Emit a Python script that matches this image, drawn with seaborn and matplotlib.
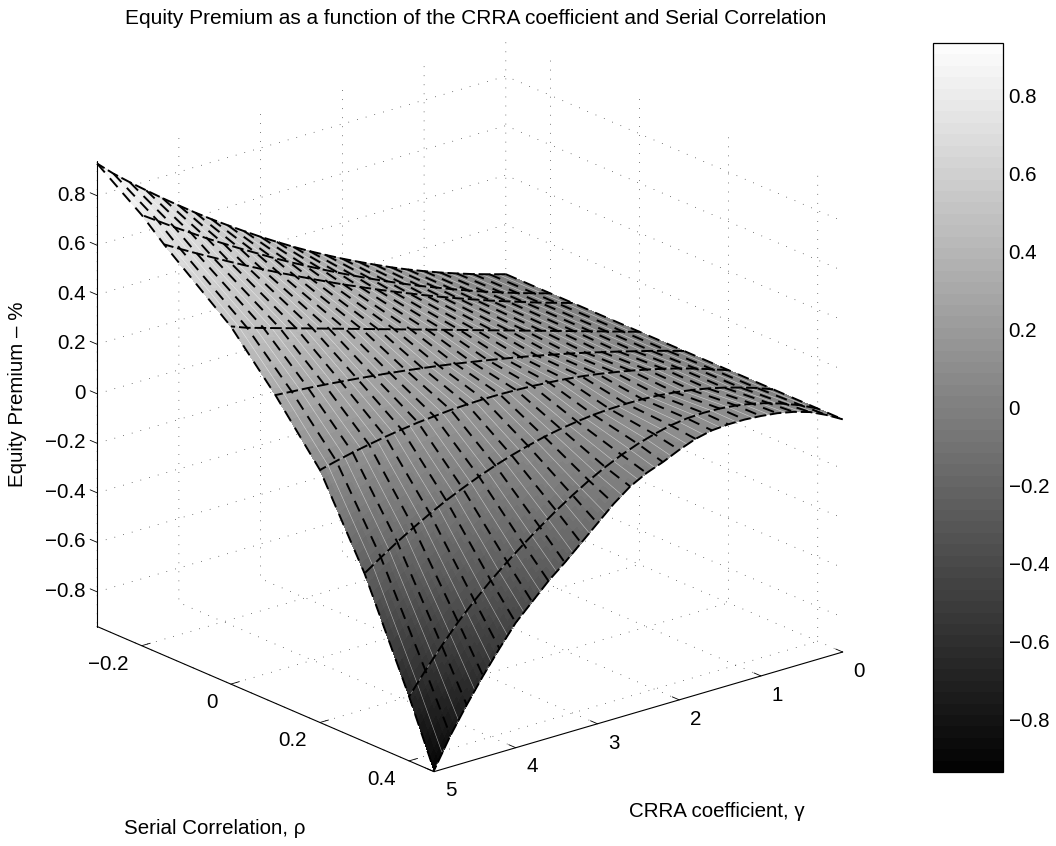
import matplotlib
matplotlib.use("Agg")
import matplotlib.pyplot as plt
import seaborn as sns
import numpy as np
from matplotlib.cm import ScalarMappable
from matplotlib.colors import ListedColormap, Normalize

gamma = [0.0, 0.2, 0.4, 0.6, 0.8, 1.0, 1.2, 1.4, 1.6, 1.8, 2.0, 2.2, 2.4, 2.6, 2.8, 3.0,
         3.2, 3.4, 3.6, 3.8, 4.0, 4.2, 4.4, 4.6, 4.8, 5.0]
rho = [-0.3, -0.2, -0.15, 0.0, 0.1, 0.2, 0.3, 0.4, 0.456]

# one list per rho
z_m30 = [0, .019, .039, .061, .084, .109, .135, .163, .193, .224, .256, .290, .325, .362, .401, .441,
         .483, .526, .570, .616, .664, .713, .764, .816, .870, .930]
z_m20 = [0, .020, .040, .062, .084, .108, .133, .159, .185, .213, .242, .272, .303, .335, .368, .402,
         .437, .473, .511, .549, .588, .628, .670, .712, .756, .800]
z_m15 = [0, .020, .040, .062, .084, .106, .130, .154, .179, .205, .232, .259, .287, .316, .345, .376,
         .407, .439, .471, .504, .538, .573, .609, .645, .682, .720]
z_p00 = [0, .020, .040, .060, .080, .100, .120, .140, .160, .180, .200, .220, .240, .260, .280, .300,
         .320, .340, .360, .380, .400, .420, .440, .460, .480, .505]
z_p10 = [0, .020, .039, .057, .075, .092, .109, .125, .140, .155, .169, .182, .195, .207, .219, .230,
         .240, .250, .259, .267, .275, .282, .289, .295, .300, .305]
z_p20 = [0, .023, .045, .065, .083, .099, .114, .127, .139, .149, .157, .163, .168, .171, .173, .173,
         .171, .168, .162, .156, .147, .137, .125, .112, .097, .080]
z_p30 = [0, .025, .046, .065, .081, .094, .104, .111, .115, .116, .114, .110, .102, .092, .079, .062,
         .043, .021, -.004, -.032, -.062, -.096, -.133, -.172, -.215, -.260]
z_p40 = [0, .032, .058, .080, .097, .109, .116, .118, .115, .106, .090, .070, .045, .015, -.020, -.060,
         -.103, -.150, -.200, -.252, -.308, -.370, -.437, -.513, -.594, -.680]
z_p46 = [0, .037, .068, .088, .102, .110, .115, .115, .110, .095, .070, .040, .015, -.020, -.070, -.130,
         -.190, -.250, -.305, -.370, -.435, -.520, -.611, -.709, -.814, -.935]

gamma_ticks = [0, 1, 2, 3, 4, 5]
rho_ticks = [-0.2, 0, 0.2, 0.4]
z_ticks = [-0.8, -0.6, -0.4, -0.2, 0, 0.2, 0.4, 0.6, 0.8]
z_tick_labels = ["\u22120.8", "\u22120.6", "\u22120.4", "\u22120.2", "0", "0.2", "0.4", "0.6", "0.8"]

sns.set_theme(style="white", font="Liberation Sans")
plt.rcParams["text.color"] = "black"
plt.rcParams["xtick.color"] = "black"
plt.rcParams["ytick.color"] = "black"
TXT = 14.8

Z = np.array([z_m30, z_m20, z_m15, z_p00, z_p10, z_p20, z_p30, z_p40, z_p46])
G, R = np.meshgrid(gamma, rho)

# finer mesh only so the faces shade smoothly, like MATLAB's interp shading
n_g, n_r = 4, 12
g_f = np.interp(np.arange((len(gamma) - 1) * n_g + 1) / n_g, np.arange(len(gamma)), gamma)
r_f = np.interp(np.arange((len(rho) - 1) * n_r + 1) / n_r, np.arange(len(rho)), rho)
Z_f = np.array([np.interp(g_f, gamma, row) for row in Z])
Z_f = np.array([np.interp(r_f, rho, col) for col in Z_f.T]).T
G_f, R_f = np.meshgrid(g_f, r_f)

cmap = ListedColormap(sns.color_palette("gray", 64))
norm = Normalize(-0.935, 0.935)

W, H = 1056, 846
fig = plt.figure(figsize=(W / 100, H / 100), dpi=100)
S = 846
cx, cy = 458.5, 418
ax = fig.add_axes([(cx - S / 2) / W, 1 - (cy + S / 2) / H, S / W, S / H], projection="3d")
ax.set_proj_type("ortho")
ax.view_init(elev=20.8, azim=50.5)
ax.set_box_aspect((1, 1, 0.94), zoom=1.032)
ax.computed_zorder = False
ax.patch.set_alpha(0)

ax.plot_surface(G_f, R_f, Z_f, facecolors=cmap(norm(Z_f)), rstride=1, cstride=1,
                shade=False, linewidth=0, antialiased=False, zorder=1)

# white hairlines between the mesh lines
for j in range(n_g // 2, len(g_f), n_g):
    ax.plot(G_f[:, j], R_f[:, j], Z_f[:, j], color="white", lw=0.4, alpha=0.6, zorder=2)
for i in range(len(rho)):
    ax.plot(G[i], R[i], Z[i], color="#c8c8c8", lw=0.4, alpha=0.7, zorder=2)

ax.plot_wireframe(G, R, Z, rstride=0, cstride=1, color="black", lw=1.4,
                  linestyles=[(0, (6, 4))], zorder=3)
ax.plot_wireframe(G, R, Z, rstride=1, cstride=0, color="black", lw=1.4,
                  linestyles=[(0, (6, 2))], zorder=3)

ax.set_xlim(0, 5, view_margin=0)
ax.set_ylim(-0.3, 0.456, view_margin=0)
ax.set_zlim(-0.94, 0.94, view_margin=0)
ax.set_xticks(gamma_ticks)
ax.set_yticks(rho_ticks)
ax.set_zticks(z_ticks)
ax.set_xticklabels([str(v) for v in gamma_ticks], fontsize=TXT, ha="left", va="center")
ax.set_yticklabels(["\u22120.2", "0", "0.2", "0.4"], fontsize=TXT, ha="right", va="center")
ax.set_zticklabels(z_tick_labels, fontsize=TXT, ha="right", va="center")

for axis in (ax.xaxis, ax.yaxis, ax.zaxis):
    axis.set_pane_color((1, 1, 1, 0))
    axis.pane.set_edgecolor("none")
    axis.line.set_linewidth(0.8)
    axis.line.set_color("black")
    axis._axinfo["grid"].update(color="black", linewidth=0.5, linestyle=(0, (1, 12)))
    axis._axinfo["tick"].update(inward_factor=0, outward_factor=0.26, linewidth={True: 0.6, False: 0.6})
ax.zaxis._get_tickdir = lambda pos: 1
ax.grid(True)
ax.tick_params(axis="both", pad=2)
ax.tick_params(axis="z", pad=-3)

fig.text(125 / W, 1 - 18 / H, "Equity Premium as a function of the CRRA coefficient and Serial Correlation",
         ha="left", va="center", fontsize=15)
fig.text(124 / W, 1 - 828 / H, "Serial Correlation, \u03c1", ha="left", va="center", fontsize=TXT)
fig.text(629 / W, 1 - 811 / H, "CRRA coefficient, \u03b3", ha="left", va="center", fontsize=TXT)
fig.text(18 / W, 1 - 394 / H, "Equity Premium \u2013 %", ha="center", va="center", rotation=90, fontsize=TXT)

cax = fig.add_axes([933 / W, 1 - 772 / H, 70 / W, 729 / H])
cb = fig.colorbar(ScalarMappable(norm=norm, cmap=cmap), cax=cax, ticks=z_ticks)
cb.ax.set_yticklabels(z_tick_labels)
cb.ax.tick_params(direction="in", length=5, width=0.6, left=True, right=True, labelsize=TXT, pad=4)
cb.outline.set_linewidth(0.9)
cb.outline.set_edgecolor("black")

fig.savefig("out.png", dpi=100)
